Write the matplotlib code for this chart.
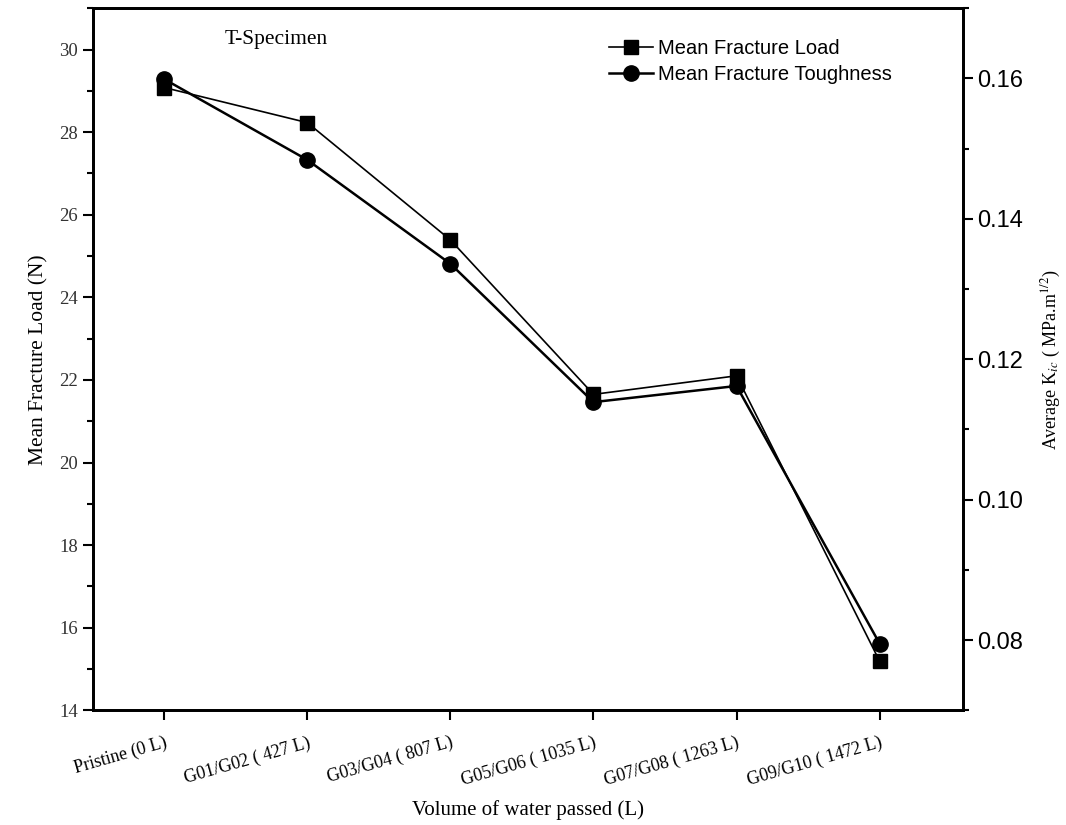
import matplotlib
matplotlib.use('Agg')
import matplotlib.pyplot as plt
from matplotlib.ticker import MultipleLocator

# Данные
groups = ['Pristine (0 L)', 'G01/G02 ( 427 L)', 'G03/G04 ( 807 L)',
          'G05/G06 ( 1035 L)', 'G07/G08 ( 1263 L)', 'G09/G10 ( 1472 L)']
load = [29.08, 28.23, 25.39, 21.65, 22.1, 15.19]
toughness = [0.1599, 0.1484, 0.1336, 0.1139, 0.1162, 0.0795]

plt.rcParams['mathtext.fontset'] = 'stix'
serif = 'Liberation Serif'
sans = 'Liberation Sans'

fig = plt.figure(figsize=(10.66, 8.25), dpi=100)
ax = fig.add_axes([0.087, 0.139, 0.816, 0.851])
ax2 = ax.twinx()

x = list(range(len(groups)))
l1, = ax.plot(x, load, color='black', lw=1.2, marker='s', ms=10,
              label='Mean Fracture Load')
l2, = ax2.plot(x, toughness, color='black', lw=1.8, marker='o', ms=11,
               label='Mean Fracture Toughness')

ax.set_xlim(-0.5, 5.58)
ax.set_ylim(14, 31)
ax2.set_ylim(0.07, 0.17)

# Левая ось
ax.yaxis.set_major_locator(MultipleLocator(2))
ax.yaxis.set_minor_locator(MultipleLocator(1))
ax.tick_params(axis='y', which='major', length=7, width=1.5, direction='out')
ax.tick_params(axis='y', which='minor', length=4, width=1.5, direction='out')
for t in ax.get_yticklabels():
    t.set_fontfamily(serif)
    t.set_fontsize(13.5)
    t.set_color('#333333')

# Нижняя ось
ax.set_xticks(x)
ax.set_xticklabels(groups, rotation=16, ha='right', rotation_mode='anchor',
                   fontfamily=serif, fontsize=13)
ax.tick_params(axis='x', length=7, width=1.5, direction='out', pad=10)

# Правая ось
ax2.yaxis.set_major_locator(MultipleLocator(0.02))
ax2.yaxis.set_minor_locator(MultipleLocator(0.01))
ax2.tick_params(axis='y', which='major', length=7, width=1.5, direction='out')
ax2.tick_params(axis='y', which='minor', length=4, width=1.5, direction='out')
ax2.set_yticks([0.08, 0.10, 0.12, 0.14, 0.16])
ax2.set_yticklabels(['0.08', '0.10', '0.12', '0.14', '0.16'],
                    fontfamily=sans, fontsize=17)

for a in (ax, ax2):
    for s in a.spines.values():
        s.set_linewidth(2)

ax.set_ylabel('Mean Fracture Load (N)', fontfamily=serif, fontsize=15.5, labelpad=8)
ax.set_xlabel('Volume of water passed (L)', fontfamily=serif, fontsize=15, labelpad=8)
ax2.set_ylabel(r'Average K$_{ic}$ ( MPa.m$^{1/2}$)', fontfamily=serif,
               fontsize=13, labelpad=12)

ax.text(0.152, 0.955, 'T-Specimen', transform=ax.transAxes,
        fontfamily=serif, fontsize=15.5, va='center')

leg = ax.legend(handles=[l1, l2], loc='upper right', bbox_to_anchor=(0.94, 0.982),
                frameon=False, handlelength=2.2, handletextpad=0.25,
                prop={'family': sans, 'size': 14.5}, labelspacing=0.35)

fig.savefig('out.png', dpi=100)
plt.close()
